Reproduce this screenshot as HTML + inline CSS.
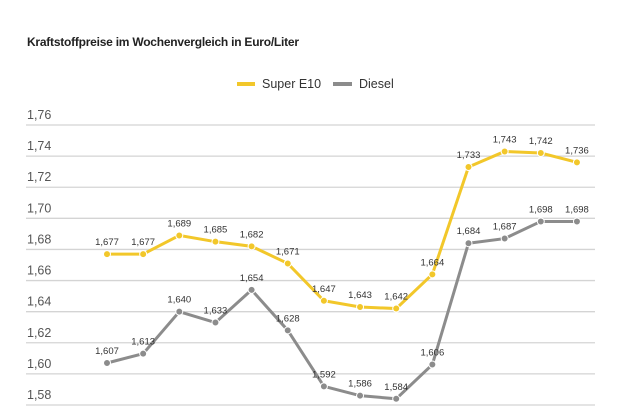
<!DOCTYPE html>
<html><head><meta charset="utf-8"><style>
body{margin:0;background:#fff;font-family:"Liberation Sans",sans-serif}
</style></head><body>
<svg id="c" width="630" height="412" xmlns="http://www.w3.org/2000/svg" style="display:block">
<text x="27" y="46" font-size="12" font-weight="bold" fill="#222" textLength="272">Kraftstoffpreise im Wochenvergleich in Euro/Liter</text>
<g>
<line x1="237" y1="84" x2="255" y2="84" stroke="#f2c72a" stroke-width="4"/>
<text x="262" y="88" font-size="12.5" fill="#333">Super E10</text>
<line x1="333" y1="84" x2="352" y2="84" stroke="#8c8c8c" stroke-width="4"/>
<text x="359" y="88" font-size="12.5" fill="#333">Diesel</text>
</g>
<g id="grid"></g><g id="series"></g>
</svg>
<script>
const ticks=[1.58,1.60,1.62,1.64,1.66,1.68,1.70,1.72,1.74,1.76];
const tickLabels=["1,58","1,60","1,62","1,64","1,66","1,68","1,70","1,72","1,74","1,76"];
const superE10=[1.677,1.677,1.689,1.685,1.682,1.671,1.647,1.643,1.642,1.664,1.733,1.743,1.742,1.736];
const diesel=[1.607,1.613,1.640,1.633,1.654,1.628,1.592,1.586,1.584,1.606,1.684,1.687,1.698,1.698];
const NS="http://www.w3.org/2000/svg";
const y=v=>405-(v-1.58)/0.18*280;
const x=i=>107+i*36.15;
const fmt=v=>v.toFixed(3).replace('.',',');
const grid=document.getElementById('grid');
function mk(t,a,p){const e=document.createElementNS(NS,t);for(const k in a)e.setAttribute(k,a[k]);p.appendChild(e);return e;}
ticks.forEach((t,i)=>{
 const l=mk('line',{x1:26,x2:595,y1:y(t),y2:y(t),stroke:'#d4d4d4','stroke-width':1.3},grid);
 
 
 const tx=mk('text',{x:27,y:y(t)-6,'font-size':12.5,fill:'#555'},grid);
 tx.textContent=tickLabels[i];
 
 
});
const sg=document.getElementById('series');
function draw(vals,col,name){
 const g=mk('g',{},sg);
 
 
 const p=mk('polyline',{points:vals.map((v,i)=>x(i)+','+y(v)).join(' '),fill:'none',stroke:col,'stroke-width':3},g);
 
 
 vals.forEach((v,i)=>{
  const c=mk('circle',{cx:x(i),cy:y(v),r:3.5,fill:col,stroke:'#fff','stroke-width':1},g);
  
  
  const t=mk('text',{x:x(i),y:y(v)-9,'font-size':9.5,fill:'#333','text-anchor':'middle'},g);
  t.textContent=fmt(v);
  
  
 });
}
draw(superE10,'#f2c72a','super-e10');
draw(diesel,'#8c8c8c','diesel');
</script>
</body></html>
